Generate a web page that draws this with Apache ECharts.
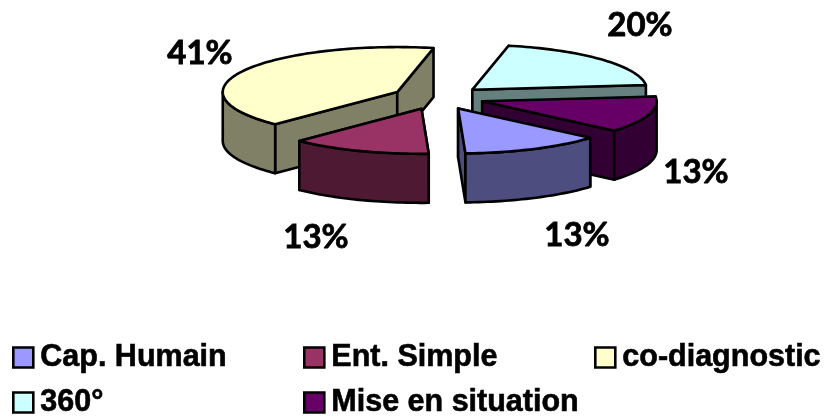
<!DOCTYPE html>
<html>
<head>
<meta charset="utf-8">
<style>html,body{margin:0;padding:0;background:#fff}#chart{width:827px;height:419px}</style>
<script src="https://cdn.jsdelivr.net/npm/echarts@6/dist/echarts.min.js"></script>
</head>
<body>
<div id="chart"></div>
<script>
// Values of the exploded 3D pie
const categories = ['Cap. Humain', 'Ent. Simple', 'co-diagnostic', '360°', 'Mise en situation'];
const shares = [13, 13, 41, 20, 13];
const topColors = ['#9999FF', '#993366', '#FFFFCC', '#CCFFFF', '#660066'];
const sideColors = ['#4D4D80', '#4D1933', '#808066', '#668080', '#330033'];

// Pie projection: an ellipse extruded downwards, slices pushed out along their bisector
const pie = { cx: 438, cy: 97.7, rx: 174.5, ry: 45, depth: 49, explode: 0.265, startDeg: 40.8 };
const labelCenters = [[577, 235], [316, 237], [200, 53], [640, 25], [696, 172]];
const legendSlots = [[12, 339], [303, 339], [594, 339], [12, 384], [303, 384]];

const total = shares.reduce((a, b) => a + b, 0);
const sweeps = [];
shares.reduce((start, v) => {
  const end = start + v / total * 360;
  sweeps.push([start, end]);
  return end;
}, pie.startDeg);

function rim(c, deg, dy) {
  const t = deg * Math.PI / 180;
  return [c[0] + pie.rx * Math.cos(t), c[1] + pie.ry * Math.sin(t) + (dy || 0)];
}
function arc(c, a0, a1, dy) {
  const pts = [];
  const n = Math.max(2, Math.ceil((a1 - a0) / 1.5));
  for (let i = 0; i <= n; i++) pts.push(rim(c, a0 + (a1 - a0) * i / n, dy));
  return pts;
}
function sliceCentre(a0, a1) {
  const mid = (a0 + a1) / 2 * Math.PI / 180;
  return [pie.cx + pie.explode * pie.rx * Math.cos(mid), pie.cy + pie.explode * pie.ry * Math.sin(mid)];
}
function face(points, fill, z2) {
  return {
    type: 'polygon', z2,
    shape: { points },
    style: { fill, stroke: '#000', lineWidth: 2.6, lineJoin: 'round' }
  };
}
function frontWallSpans(a0, a1) {
  // Parts of the sweep where the outer wall faces the viewer (between 0 and 180 degrees, mod 360)
  const spans = [];
  for (let k = -1; k <= 2; k++) {
    const lo = Math.max(a0, 360 * k), hi = Math.min(a1, 360 * k + 180);
    if (hi > lo) spans.push([lo, hi]);
  }
  return spans;
}

function renderSlice(index) {
  return function (params, api) {
    const [a0, a1] = sweeps[index];
    const c = sliceCentre(a0, a1);
    const d = pie.depth;
    const side = sideColors[index], top = topColors[index];
    const down = p => [p[0], p[1] + d];
    const p0 = rim(c, a0), p1 = rim(c, a1);
    const children = [];
    children.push(face([c, p0, down(p0), down(c)], side, 1));
    children.push(face([c, p1, down(p1), down(c)], side, 2));
    frontWallSpans(a0, a1).forEach(([lo, hi]) => {
      const upper = arc(c, lo, hi, 0);
      const lower = arc(c, lo, hi, d).reverse();
      children.push(face(upper.concat(lower), side, 3));
    });
    children.push(face([c].concat(arc(c, a0, a1, 0)), top, 4));
    const [lx, ly] = labelCenters[index];
    children.push({
      type: 'text', z2: 5,
      style: {
        x: lx, y: ly, text: api.value(0) + '%',
        font: 'bold 33px Lato', fill: '#000', stroke: '#000', lineWidth: 0.8,
        align: 'center', verticalAlign: 'middle'
      }
    });
    return { type: 'group', children };
  };
}

// Back-to-front paint order, computed from how far forward each slice sits
const paintOrder = categories.map((_, i) => i).sort((a, b) =>
  Math.sin((sweeps[a][0] + sweeps[a][1]) / 2 * Math.PI / 180) -
  Math.sin((sweeps[b][0] + sweeps[b][1]) / 2 * Math.PI / 180));

const chart = echarts.init(document.getElementById('chart'), null, { renderer: 'canvas' });
chart.setOption({
  animation: false,
  backgroundColor: '#fff',
  legend: categories.map((name, i) => ({
    left: legendSlots[i][0], top: legendSlots[i][1], padding: 0,
    selectedMode: false, itemWidth: 20, itemHeight: 20, itemGap: 0,
    data: [{ name, icon: 'rect' }],
    itemStyle: { borderColor: '#000', borderWidth: 2.6 },
    textStyle: {
      fontFamily: 'Liberation Sans', fontWeight: 'bold', fontSize: 30.5, color: '#000',
      textBorderColor: '#000', textBorderWidth: 0.6,
      padding: [7, 0, 0, 2], lineHeight: 30
    }
  })),
  series: paintOrder.map(i => ({
    type: 'custom',
    name: categories[i],
    coordinateSystem: 'none',
    silent: true,
    itemStyle: { color: topColors[i] },
    data: [[shares[i]]],
    renderItem: renderSlice(i)
  }))
});
</script>
</body>
</html>
